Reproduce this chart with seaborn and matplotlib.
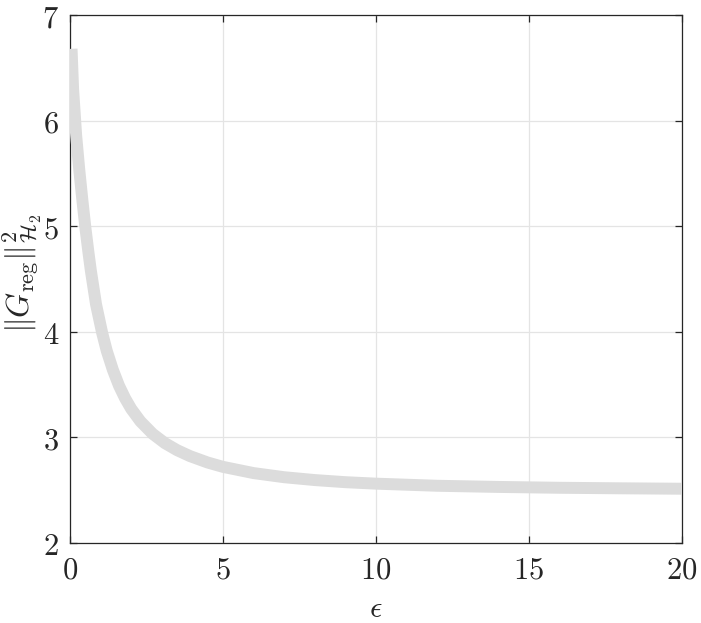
import matplotlib
matplotlib.use('Agg')
import matplotlib.pyplot as plt
import seaborn as sns

# --- Data ---
eps_values = [0.05, 0.1, 0.2, 0.3, 0.4, 0.5, 0.6, 0.68, 0.85, 1.05,
              1.2, 1.4, 1.6, 1.8, 2.0, 2.3, 2.7, 3.1, 3.5, 3.92,
              4.5, 5.0, 6.0, 7.0, 8.0, 9.0, 10.0, 12.0, 14.0, 16.0,
              18.0, 20.0]
h2_norm = [6.68, 6.30, 5.86, 5.54, 5.256, 4.99, 4.756, 4.58, 4.26, 3.99,
           3.82, 3.64, 3.49, 3.37, 3.27, 3.152, 3.034, 2.946, 2.879, 2.823,
           2.762, 2.721, 2.662, 2.623, 2.596, 2.576, 2.562, 2.542, 2.531, 2.523,
           2.518, 2.514]
x_ticks = [0, 5, 10, 15, 20]
y_ticks = [2, 3, 4, 5, 6, 7]

sns.set_style('ticks')
plt.rcParams['mathtext.fontset'] = 'cm'
plt.rcParams['font.family'] = ['DejaVu Serif']

axis_color = '#262626'

fig = plt.figure(figsize=(7.01, 6.23), dpi=100)
ax = fig.add_axes([0.0999, 0.1284, 0.873, 0.8475])

sns.lineplot(x=eps_values, y=h2_norm, ax=ax, color='#dcdcdc',
             linewidth=8.6, solid_capstyle='butt', solid_joinstyle='round',
             zorder=3)

ax.set_xlim(0, 20)
ax.set_ylim(2, 7)
ax.set_xticks(x_ticks)
ax.set_yticks(y_ticks)
ax.set_xticklabels([f'${t}$' for t in x_ticks], fontsize=22)
ax.set_yticklabels([f'${t}$' for t in y_ticks], fontsize=22)

ax.grid(True, color='#e4e4e4', linewidth=0.9, zorder=0)
ax.set_axisbelow(True)

for side in ['top', 'right', 'bottom', 'left']:
    ax.spines[side].set_visible(True)
    ax.spines[side].set_color(axis_color)
    ax.spines[side].set_linewidth(0.9)

ax.tick_params(direction='in', length=5, width=0.9, color=axis_color,
               labelcolor=axis_color, top=True, right=True, pad=8)

ax.set_xlabel(r'$\epsilon$', fontsize=22, color=axis_color)
ax.set_ylabel(r'$\|G_{\mathrm{reg}}\|_{\mathcal{H}_2}^2$', fontsize=23,
              color=axis_color)
ax.xaxis.set_label_coords(0.5, -0.094)
ax.yaxis.set_label_coords(-0.042, 0.51)

fig.savefig('out.png', dpi=100)
